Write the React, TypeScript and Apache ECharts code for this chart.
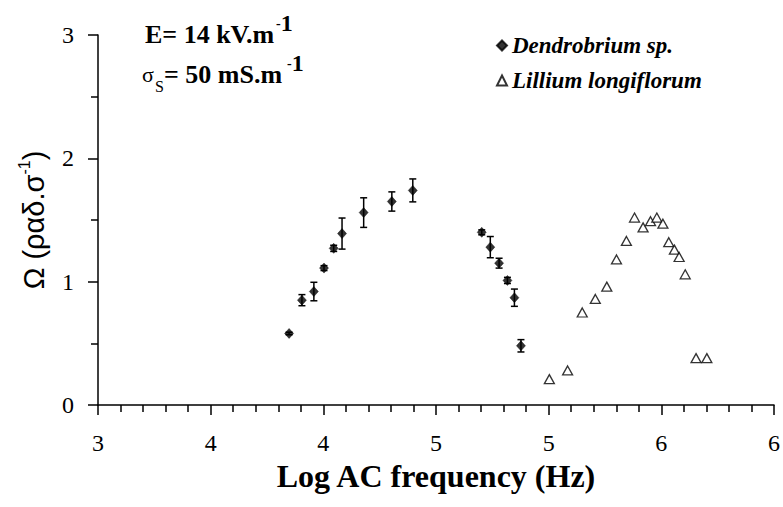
import React, { useEffect, useRef } from "react";
import * as echarts from "echarts";

// Dendrobrium sp. (filled diamonds with error bars)
const dendroX = [3.848, 3.905, 3.958, 4.003, 4.046, 4.083, 4.179, 4.304, 4.397, 4.703, 4.741, 4.78, 4.817, 4.848, 4.877];
const dendroY = [0.58, 0.85, 0.92, 1.11, 1.27, 1.39, 1.56, 1.65, 1.74, 1.4, 1.28, 1.15, 1.01, 0.87, 0.48];
const dendroErr = [0.01, 0.045, 0.075, 0.02, 0.025, 0.126, 0.12, 0.078, 0.093, 0.02, 0.086, 0.04, 0.025, 0.07, 0.05];

// Lillium longiflorum (open triangles)
const lilliumX = [5.003, 5.084, 5.149, 5.207, 5.258, 5.301, 5.345, 5.381, 5.419, 5.452, 5.48, 5.507, 5.533, 5.558, 5.579, 5.606, 5.654, 5.702];
const lilliumY = [0.21, 0.28, 0.75, 0.86, 0.96, 1.18, 1.33, 1.52, 1.44, 1.49, 1.52, 1.47, 1.32, 1.26, 1.2, 1.06, 0.38, 0.38];

const xTickLabels = ["3", "4", "4", "5", "5", "6", "6"];
const yTickLabels = ["0", "1", "2", "3"];

const seriesNames = ["Dendrobrium sp.", "Lillium longiflorum"];

const SERIF = "'Liberation Serif', 'Times New Roman', serif";
const SANS = "'Liberation Sans', Arial, sans-serif";

const supRich = {
  m: { fontFamily: SERIF, fontWeight: "bold", fontSize: 14, fill: "#000", color: "#000", verticalAlign: "middle" },
  o: { fontFamily: SERIF, fontWeight: "bold", fontSize: 24, fill: "#000", color: "#000", verticalAlign: "middle" },
};

export default function App() {
  const ref = useRef<HTMLDivElement>(null);

  useEffect(() => {
    if (!ref.current) return;
    const chart = echarts.init(ref.current, null, { renderer: "svg" });

    const dendroData = dendroX.map((x, i) => [x, dendroY[i]]);
    const dendroErrData = dendroX.map((x, i) => [x, dendroY[i], dendroErr[i]]);
    const lilliumData = lilliumX.map((x, i) => [x, lilliumY[i]]);

    const option: any = {
      animation: false,
      backgroundColor: "#ffffff",
      grid: { left: 98, right: 8, top: 35, bottom: 102, containLabel: false },
      legend: {
        orient: "vertical",
        left: 491,
        top: 29,
        itemWidth: 10,
        itemHeight: 10,
        itemGap: 12,
        data: seriesNames,
        textStyle: {
          fontFamily: SERIF,
          fontStyle: "italic",
          fontWeight: "bold",
          fontSize: 23,
          color: "#000",
          lineHeight: 22,
        },
      },
      xAxis: {
        type: "value",
        min: 3,
        max: 6,
        interval: 0.5,
        name: "Log AC frequency (Hz)",
        nameLocation: "middle",
        nameGap: 54,
        nameTextStyle: { fontFamily: SERIF, fontWeight: "bold", fontSize: 32, color: "#000" },
        axisLine: { show: true, onZero: false, lineStyle: { color: "#000", width: 1.5 } },
        axisTick: { show: true, inside: false, length: 10, lineStyle: { color: "#000", width: 1.5 } },
        minorTick: { show: true, splitNumber: 5, length: 7, lineStyle: { color: "#000", width: 1.5 } },
        splitLine: { show: false },
        axisLabel: {
          margin: 26,
          fontFamily: SERIF,
          fontSize: 24,
          color: "#000",
          formatter: (v: number) => xTickLabels[Math.round((v - 3) / 0.5)] ?? "",
        },
      },
      yAxis: {
        type: "value",
        min: 0,
        max: 3,
        interval: 1,
        name: "{a|Ω (ραδ.σ}{s|-1}{a|)}",
        nameLocation: "middle",
        nameRotate: 90,
        nameGap: 50,
        nameTextStyle: {
          color: "#000",
          rich: {
            a: { fontFamily: SANS, fontSize: 29, color: "#000", lineHeight: 32, verticalAlign: "bottom" },
            s: { fontFamily: SANS, fontSize: 16, color: "#000", lineHeight: 32, verticalAlign: "top" },
          },
        },
        axisLine: { show: true, onZero: false, lineStyle: { color: "#000", width: 1.5 } },
        axisTick: { show: true, inside: false, length: 10, lineStyle: { color: "#000", width: 1.5 } },
        minorTick: { show: true, splitNumber: 2, length: 7, lineStyle: { color: "#000", width: 1.5 } },
        splitLine: { show: false },
        axisLabel: {
          margin: 24,
          fontFamily: SERIF,
          fontSize: 24,
          color: "#000",
          formatter: (v: number) => yTickLabels[Math.round(v)] ?? "",
        },
      },
      graphic: [
        { type: "text", left: 145, top: 21, style: { text: "E= 14 kV.m", font: `bold 26px ${SERIF}`, fill: "#000" } },
        { type: "text", left: 276, top: 11, style: { text: "{m|-}{o|1}", rich: supRich, fill: "#000" } },
        { type: "text", left: 142, top: 63, style: { text: "σ", font: `22px ${SERIF}`, fill: "#000" } },
        { type: "text", left: 155, top: 78, style: { text: "S", font: `16px ${SERIF}`, fill: "#000" } },
        { type: "text", left: 164, top: 61, style: { text: "= 50 mS.m", font: `bold 26px ${SERIF}`, fill: "#000" } },
        { type: "text", left: 287, top: 51, style: { text: "{m|-}{o|1}", rich: supRich, fill: "#000" } },
      ],
      series: [
        {
          name: "errbars",
          type: "custom",
          data: dendroErrData,
          z: 1,
          silent: true,
          renderItem: (params: any, api: any) => {
            const x = api.value(0);
            const y = api.value(1);
            const e = api.value(2);
            const top = api.coord([x, y + e]);
            const bot = api.coord([x, y - e]);
            const w = 3.5;
            const st = { stroke: "#000", lineWidth: 1.5 };
            return {
              type: "group",
              children: [
                { type: "line", shape: { x1: top[0], y1: top[1], x2: bot[0], y2: bot[1] }, style: st },
                { type: "line", shape: { x1: top[0] - w, y1: top[1], x2: top[0] + w, y2: top[1] }, style: st },
                { type: "line", shape: { x1: bot[0] - w, y1: bot[1], x2: bot[0] + w, y2: bot[1] }, style: st },
              ],
            };
          },
        },
        {
          name: seriesNames[0],
          type: "scatter",
          data: dendroData,
          symbol: "diamond",
          symbolSize: [9, 10],
          z: 3,
          itemStyle: { color: "#000", borderColor: "#000", borderWidth: 0.5 },
        },
        {
          name: seriesNames[1],
          type: "scatter",
          data: lilliumData,
          symbol: "triangle",
          symbolSize: [10, 9],
          z: 3,
          itemStyle: { color: "#fff", borderColor: "#000", borderWidth: 1.3 },
        },
      ],
    };

    chart.setOption(option);
    return () => chart.dispose();
  }, []);

  return <div ref={ref} style={{ width: 783, height: 507, position: "absolute", left: 0, top: 0 }} />;
}
